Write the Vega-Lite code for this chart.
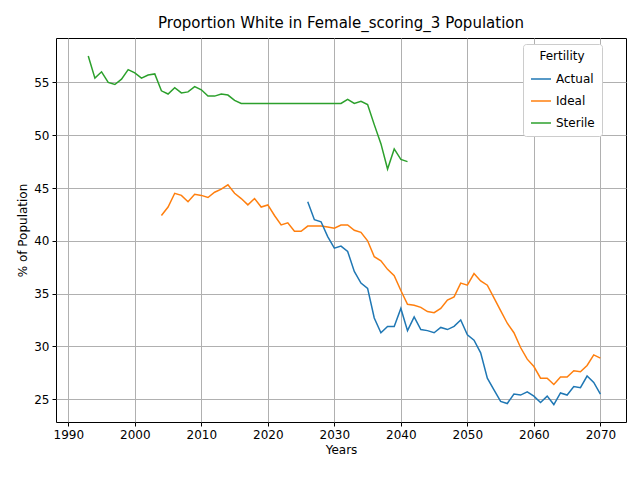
{
  "$schema": "https://vega.github.io/schema/vega-lite/v6.json",
  "width": 570,
  "height": 384,
  "autosize": {"type": "none"},
  "padding": {"left": 56, "top": 38, "right": 14, "bottom": 58},
  "title": {"text": "Proportion White in Female_scoring_3 Population", "fontSize": 15, "font": "DejaVu Sans", "fontWeight": "normal", "offset": 7},
  "data": {"values": [
    {"year":1993,"Sterile":57.5},{"year":1994,"Sterile":55.4},{"year":1995,"Sterile":56.0},{"year":1996,"Sterile":55.0},{"year":1997,"Sterile":54.8},{"year":1998,"Sterile":55.3},{"year":1999,"Sterile":56.2},{"year":2000,"Sterile":55.9},{"year":2001,"Sterile":55.4},{"year":2002,"Sterile":55.7},{"year":2003,"Sterile":55.8},
    {"year":2004,"Sterile":54.2,"Ideal":42.4},{"year":2005,"Sterile":53.9,"Ideal":43.2},{"year":2006,"Sterile":54.5,"Ideal":44.5},{"year":2007,"Sterile":54.0,"Ideal":44.3},{"year":2008,"Sterile":54.1,"Ideal":43.7},{"year":2009,"Sterile":54.6,"Ideal":44.4},{"year":2010,"Sterile":54.3,"Ideal":44.3},{"year":2011,"Sterile":53.7,"Ideal":44.1},{"year":2012,"Sterile":53.7,"Ideal":44.6},{"year":2013,"Sterile":53.9,"Ideal":44.9},{"year":2014,"Sterile":53.8,"Ideal":45.3},{"year":2015,"Sterile":53.3,"Ideal":44.5},{"year":2016,"Sterile":53.0,"Ideal":44.0},{"year":2017,"Sterile":53.0,"Ideal":43.4},{"year":2018,"Sterile":53.0,"Ideal":44.0},{"year":2019,"Sterile":53.0,"Ideal":43.2},{"year":2020,"Sterile":53.0,"Ideal":43.4},{"year":2021,"Sterile":53.0,"Ideal":42.4},{"year":2022,"Sterile":53.0,"Ideal":41.5},{"year":2023,"Sterile":53.0,"Ideal":41.7},{"year":2024,"Sterile":53.0,"Ideal":40.9},{"year":2025,"Sterile":53.0,"Ideal":40.9},
    {"year":2026,"Sterile":53.0,"Ideal":41.4,"Actual":43.7},{"year":2027,"Sterile":53.0,"Ideal":41.4,"Actual":42.0},{"year":2028,"Sterile":53.0,"Ideal":41.4,"Actual":41.8},{"year":2029,"Sterile":53.0,"Ideal":41.3,"Actual":40.4},{"year":2030,"Sterile":53.0,"Ideal":41.2,"Actual":39.3},{"year":2031,"Sterile":53.0,"Ideal":41.5,"Actual":39.5},{"year":2032,"Sterile":53.4,"Ideal":41.5,"Actual":39.0},{"year":2033,"Sterile":53.0,"Ideal":41.0,"Actual":37.1},{"year":2034,"Sterile":53.2,"Ideal":40.8,"Actual":36.0},{"year":2035,"Sterile":52.9,"Ideal":40.0,"Actual":35.5},{"year":2036,"Sterile":51.0,"Ideal":38.5,"Actual":32.7},{"year":2037,"Sterile":49.2,"Ideal":38.1,"Actual":31.3},{"year":2038,"Sterile":46.8,"Ideal":37.3,"Actual":31.9},{"year":2039,"Sterile":48.7,"Ideal":36.7,"Actual":31.9},{"year":2040,"Sterile":47.7,"Ideal":35.3,"Actual":33.6},{"year":2041,"Sterile":47.5,"Ideal":34.0,"Actual":31.5},
    {"year":2042,"Ideal":33.9,"Actual":32.8},{"year":2043,"Ideal":33.7,"Actual":31.6},{"year":2044,"Ideal":33.3,"Actual":31.5},{"year":2045,"Ideal":33.2,"Actual":31.3},{"year":2046,"Ideal":33.6,"Actual":31.8},{"year":2047,"Ideal":34.4,"Actual":31.6},{"year":2048,"Ideal":34.7,"Actual":31.9},{"year":2049,"Ideal":36.0,"Actual":32.5},{"year":2050,"Ideal":35.8,"Actual":31.1},{"year":2051,"Ideal":36.9,"Actual":30.6},{"year":2052,"Ideal":36.2,"Actual":29.4},{"year":2053,"Ideal":35.8,"Actual":27.0},{"year":2054,"Ideal":34.6,"Actual":25.9},{"year":2055,"Ideal":33.4,"Actual":24.8},{"year":2056,"Ideal":32.2,"Actual":24.6},{"year":2057,"Ideal":31.3,"Actual":25.5},{"year":2058,"Ideal":29.9,"Actual":25.4},{"year":2059,"Ideal":28.8,"Actual":25.7},{"year":2060,"Ideal":28.1,"Actual":25.3},{"year":2061,"Ideal":27.0,"Actual":24.7},{"year":2062,"Ideal":27.0,"Actual":25.3},{"year":2063,"Ideal":26.4,"Actual":24.5},{"year":2064,"Ideal":27.1,"Actual":25.6},{"year":2065,"Ideal":27.1,"Actual":25.4},{"year":2066,"Ideal":27.7,"Actual":26.2},{"year":2067,"Ideal":27.6,"Actual":26.1},{"year":2068,"Ideal":28.2,"Actual":27.2},{"year":2069,"Ideal":29.2,"Actual":26.6},{"year":2070,"Ideal":28.9,"Actual":25.5}
  ]},
  "transform": [
    {"fold": ["Actual", "Ideal", "Sterile"], "as": ["Fertility", "value"]},
    {"filter": "datum.value != null"}
  ],
  "mark": {"type": "line", "strokeWidth": 1.5, "clip": true},
  "encoding": {
    "x": {"field": "year", "type": "quantitative", "title": "Years",
      "scale": {"domain": [1988.15, 2073.85], "nice": false, "zero": false},
      "axis": {"values": [1990, 2000, 2010, 2020, 2030, 2040, 2050, 2060, 2070], "format": "d"}},
    "y": {"field": "value", "type": "quantitative", "title": "% of Population",
      "scale": {"domain": [22.85, 59.2], "nice": false, "zero": false},
      "axis": {"values": [25, 30, 35, 40, 45, 50, 55]}},
    "color": {"field": "Fertility", "type": "nominal",
      "scale": {"domain": ["Actual", "Ideal", "Sterile"], "range": ["#1f77b4", "#ff7f0e", "#2ca02c"]},
      "legend": {"orient": "none", "legendX": 467, "legendY": 6, "symbolType": "stroke", "symbolSize": 400, "symbolStrokeWidth": 1.5,
        "fillColor": "white", "strokeColor": "#cccccc", "padding": 7, "cornerRadius": 3, "titleAnchor": "middle", "rowPadding": 5}}
  },
  "config": {
    "font": "DejaVu Sans",
    "view": {"stroke": "black", "strokeWidth": 1},
    "axis": {"grid": true, "gridColor": "#b0b0b0", "gridWidth": 1, "domain": false, "tickColor": "black", "tickSize": 4,
      "labelColor": "black", "labelFontSize": 12, "titleFontSize": 12, "titleFontWeight": "normal", "titleColor": "black", "labelPadding": 3},
    "legend": {"titleFontSize": 12, "titleFontWeight": "normal", "labelFontSize": 12, "labelColor": "black", "titleColor": "black"}
  }
}
